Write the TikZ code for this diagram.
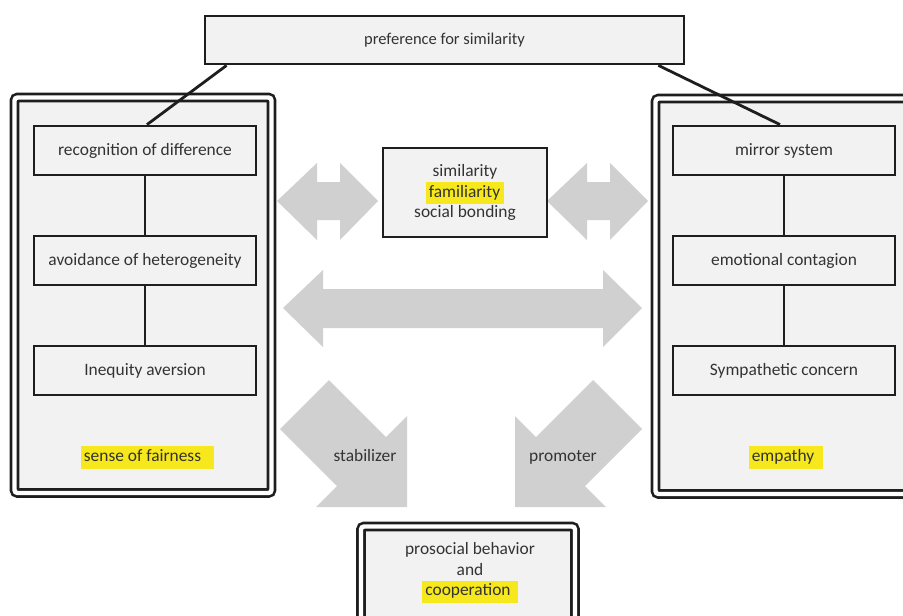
\documentclass[tikz,border=0pt]{standalone}
\usepackage{fontspec}
\setmainfont{Carlito}
\usetikzlibrary{positioning}
\definecolor{boxfill}{HTML}{F2F2F2}
\definecolor{arrowgray}{HTML}{D0D0D0}
\definecolor{hlyellow}{RGB}{246,232,28}
\definecolor{ink}{HTML}{1E1E1E}
% marker pen highlight, optional extra space on the right
\newcommand{\hilite}[2][0pt]{{\setlength{\fboxsep}{1pt}\colorbox{hlyellow}{\hspace{2pt}\strut#2\hspace{#1}}}}
\tikzset{x=1pt, y=-1pt, % pixel units, y runs downwards
node distance=110pt, % centre to centre distance of the stacked boxes
every node/.style={font=\fontsize{17.4}{20.5}\selectfont, text=black!80},
box/.style={draw=ink, line width=2.8pt, fill=boxfill, minimum width=222pt, minimum height=49pt}, % plain boxes
frame/.style={draw=ink, line width=2.6pt, double=white, double distance=4.4pt, fill=boxfill, rounded corners=3pt}, % double framed groups
link/.style={draw=ink, line width=2.8pt},
grayarrow/.style={fill=arrowgray},
}

\begin{document}
\begin{tikzpicture}
\useasboundingbox (0,0) rectangle (903,616);
% groups
\node[frame, minimum width=257pt, minimum height=395.5pt] (fairframe) at (143,295.25) {};
\node[frame, minimum width=259.5pt, minimum height=395.5pt] (empframe) at (785.25,296.25) {};
\node[frame, minimum width=214pt, minimum height=113pt] (coopframe) at (468,583) {};
% gray arrows
\foreach \dx in {0,270}
  \fill[grayarrow, xshift=\dx pt] (277,201) -- (317,163) -- (317,182) -- (340,182) -- (340,163) -- (378,201)
    -- (340,240) -- (340,220) -- (317,220) -- (317,240) -- cycle;
\fill[grayarrow] (283,308) -- (323,270) -- (323,289) -- (603,289) -- (603,270) -- (642,308)
  -- (603,347) -- (603,328) -- (323,328) -- (323,347) -- cycle;
\foreach \s/\sh in {1/0,-1/922}
  \fill[grayarrow, xshift=\sh pt, xscale=\s] (280,429) -- (329,380) -- (386,437) -- (407,416)
    -- (407,507) -- (316,507) -- (337,486) -- cycle;
\node[anchor=base] (stab) at (365,461) {stabilizer};
\node[anchor=base] (prom) at (563,461) {promoter};
% boxes
\node[box, minimum width=479pt, minimum height=48pt, font=\fontsize{16.5}{20}\selectfont] (pref) at (444.5,40) {preference for similarity};
\node[box] (recog) at (145,150.5) {recognition of difference};
\node[box, below of=recog] (avoid) {avoidance of heterogeneity};
\node[box, below of=avoid] (ineq) {Inequity aversion};
\node[box] (mirror) at (784,150.5) {mirror system};
\node[box, below of=mirror] (emot) {emotional contagion};
\node[box, below of=emot] (symp) {Sympathetic concern};
\node[box, minimum width=164pt, minimum height=89pt, align=center] (simbox) at (465,192.5)
  {similarity\\\hilite[3pt]{familiarity}\\social bonding};
\node (fairness) at (147.5,457.5) {\hilite[12pt]{sense of fairness}};
\node (empathy) at (786,457.5) {\hilite[8pt]{empathy}};
\node[align=center] (coop) at (470,573) {prosocial behavior\\and\\\hilite[6pt]{cooperation}};
% connectors
\draw[link] (recog) -- (avoid) (avoid) -- (ineq) (mirror) -- (emot) (emot) -- (symp);
\draw[link] ([xshift=23pt]pref.south west) -- ([xshift=2pt]recog.north);
\draw[link] ([xshift=-27pt]pref.south east) -- ([xshift=-4pt]mirror.north);
\end{tikzpicture}
\end{document}
